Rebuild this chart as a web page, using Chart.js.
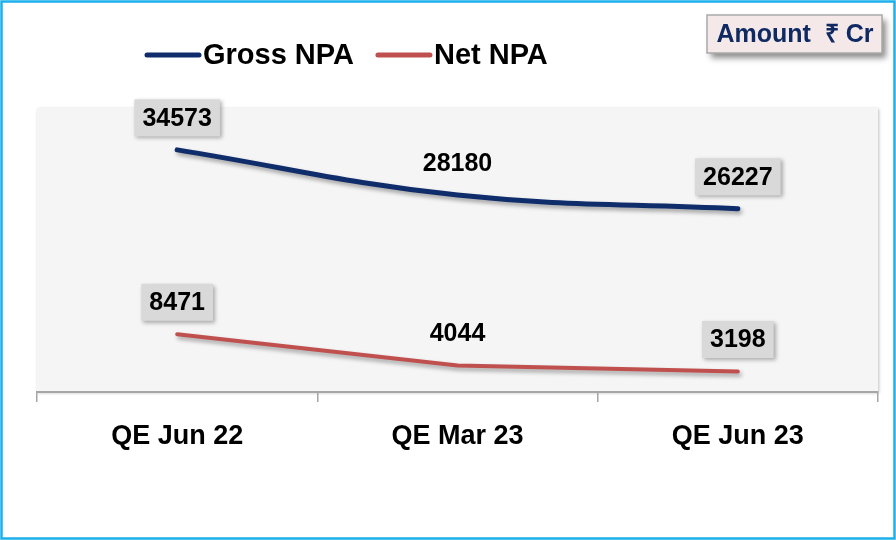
<!DOCTYPE html>
<html>
<head>
<meta charset="utf-8">
<script src="https://cdn.jsdelivr.net/npm/chart.js@4.4.0/dist/chart.umd.min.js"></script>
<style>
  html, body { margin: 0; padding: 0; background: #fff; }
  #wrap { width: 896px; height: 540px; }
</style>
</head>
<body>
<div id="wrap"><canvas id="chartNpa" width="896" height="540"></canvas></div>
<script>
// data (Amount in Rs crore)
const quarters = ['QE Jun 22', 'QE Mar 23', 'QE Jun 23'];
const grossNpa = [34573, 28180, 26227];
const netNpa = [8471, 4044, 3198];
const seriesNames = ['Gross NPA', 'Net NPA'];
const unitLabel = 'Amount  ₹ Cr';

const FONT = '"Liberation Sans", Arial, sans-serif';
const boxedLabel = [true, false, true]; // middle quarter labels have no grey box

/** background, plot area and the cyan frame */
const frame = {
  id: 'frame',
  beforeDraw(chart) {
    const { ctx, chartArea: a } = chart;
    ctx.save();
    ctx.fillStyle = '#fff';
    ctx.fillRect(0, 0, chart.width, chart.height);
    ctx.shadowColor = 'rgba(0,0,0,0.25)';
    ctx.shadowBlur = 3;
    ctx.shadowOffsetX = 1;
    ctx.shadowOffsetY = 1;
    ctx.fillStyle = '#f5f5f5';
    ctx.fillRect(a.left, a.top, a.right - a.left, a.bottom - a.top);
    ctx.restore();
    ctx.save();
    ctx.strokeStyle = '#1cb0ea';
    ctx.lineWidth = 2.5;
    ctx.strokeRect(1.5, 1.5, chart.width - 3, chart.height - 3);
    ctx.restore();
  }
};

/** soft shadow under the lines */
const lineShadow = {
  id: 'lineShadow',
  beforeDatasetDraw(chart) {
    const ctx = chart.ctx;
    ctx.save();
    ctx.shadowColor = 'rgba(0,0,0,0.35)';
    ctx.shadowBlur = 4;
    ctx.shadowOffsetX = 2;
    ctx.shadowOffsetY = 3;
  },
  afterDatasetDraw(chart) {
    chart.ctx.restore();
  }
};

/** value labels above each point */
const valueLabels = {
  id: 'valueLabels',
  afterDatasetsDraw(chart) {
    const ctx = chart.ctx;
    ctx.save();
    ctx.font = 'bold 25px ' + FONT;
    ctx.textAlign = 'center';
    ctx.textBaseline = 'middle';
    chart.data.datasets.forEach((ds, i) => {
      chart.getDatasetMeta(i).data.forEach((pt, j) => {
        const txt = String(ds.data[j]);
        const cx = pt.x, cy = pt.y - 32;
        if (boxedLabel[j]) {
          const w = ctx.measureText(txt).width + 16, h = 37;
          ctx.save();
          ctx.shadowColor = 'rgba(0,0,0,0.3)';
          ctx.shadowBlur = 4;
          ctx.shadowOffsetX = 2;
          ctx.shadowOffsetY = 2;
          ctx.fillStyle = '#d9d9d9';
          ctx.fillRect(cx - w / 2, cy - h / 2, w, h);
          ctx.restore();
        }
        ctx.fillStyle = '#000';
        ctx.fillText(txt, cx, cy + 1);
      });
    });
    ctx.restore();
  }
};

/** legend at top-left and the unit box at top-right */
const header = {
  id: 'header',
  afterDraw(chart) {
    const ctx = chart.ctx;
    ctx.save();
    ctx.font = 'bold 29px ' + FONT;
    ctx.textBaseline = 'middle';
    let x = 147;
    const y = 55;
    chart.data.datasets.forEach(ds => {
      ctx.strokeStyle = ds.borderColor;
      ctx.lineWidth = 5;
      ctx.lineCap = 'round';
      ctx.beginPath();
      ctx.moveTo(x, y);
      ctx.lineTo(x + 52, y);
      ctx.stroke();
      ctx.fillStyle = '#000';
      ctx.fillText(ds.label, x + 56, y + 1);
      x += 56 + ctx.measureText(ds.label).width + 24;
    });

    // unit box
    ctx.save();
    ctx.shadowColor = 'rgba(0,0,0,0.45)';
    ctx.shadowBlur = 6;
    ctx.shadowOffsetX = 4;
    ctx.shadowOffsetY = 5;
    ctx.fillStyle = '#f4e8e8';
    ctx.fillRect(707, 15, 175, 38);
    ctx.restore();
    ctx.strokeStyle = '#a9a9a9';
    ctx.lineWidth = 1.5;
    ctx.strokeRect(707, 15, 175, 38);
    ctx.font = 'bold 25px ' + FONT;
    ctx.fillStyle = '#0f2a62';
    ctx.textAlign = 'center';
    ctx.fillText(unitLabel, 795, 35);
    ctx.restore();
  }
};

const _chartNpa = document.getElementById('chartNpa');

new Chart(_chartNpa, {
  type: 'line',
  data: {
    labels: quarters,
    datasets: [
      {
        label: seriesNames[0],
        data: grossNpa,
        borderColor: '#0f2c6b',
        borderWidth: 5,
        borderCapStyle: 'round',
        tension: 0.4,
        pointRadius: 0,
        fill: false
      },
      {
        label: seriesNames[1],
        data: netNpa,
        borderColor: '#c0504d',
        borderWidth: 4,
        borderCapStyle: 'round',
        tension: 0,
        pointRadius: 0,
        fill: false
      }
    ]
  },
  options: {
    responsive: false,
    animation: false,
    layout: { padding: { top: 108, left: 37, right: 18, bottom: 0 } },
    plugins: {
      legend: { display: false },
      tooltip: { enabled: false }
    },
    scales: {
      x: {
        offset: true,
        grid: { offset: true, drawOnChartArea: false, tickLength: 10, color: '#a6a6a6', lineWidth: 1.5 },
        border: { color: '#a6a6a6', width: 2 },
        ticks: { color: '#000', font: { family: FONT, size: 27, weight: 'bold' }, padding: 18 },
        afterFit(scale) { scale.height = 148; }
      },
      y: {
        display: false,
        min: 300,
        max: 40500
      }
    }
  },
  plugins: [frame, lineShadow, valueLabels, header]
});
</script>
</body>
</html>
